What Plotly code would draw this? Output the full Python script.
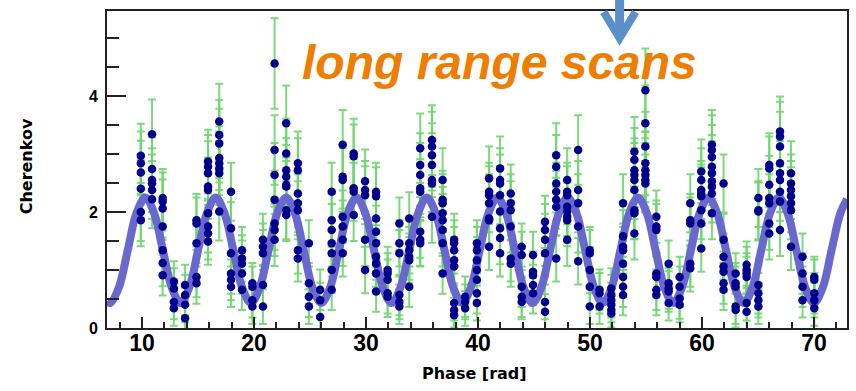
import plotly.graph_objects as go

# ---------------- data ----------------
phase = [
    9.9, 9.9, 9.9, 9.9, 9.9, 9.9,
    10.9, 10.9, 10.9, 10.9, 10.9, 10.9,
    11.85, 11.85, 11.85, 11.85, 11.85, 11.85, 11.85,
    12.85, 12.85, 12.85, 12.85,
    13.85, 13.85, 13.85, 13.85,
    14.87, 14.87, 14.87, 14.87, 14.87,
    15.9, 15.9, 15.9, 15.9, 15.9, 15.9, 15.9, 15.9, 15.9,
    16.9, 16.9, 16.9, 16.9, 16.9, 16.9, 16.9, 16.9,
    17.95, 17.95, 17.95, 17.95, 17.95, 17.95,
    18.93, 18.93, 18.93, 18.93, 18.93,
    19.86, 19.86, 19.86, 19.86,
    20.8, 20.8, 20.8, 20.8, 20.8,
    21.84, 21.84, 21.84, 21.84, 21.84, 21.84, 21.84,
    22.88, 22.88, 22.88, 22.88, 22.88, 22.88, 22.88, 22.88,
    23.92, 23.92, 23.92, 23.92, 23.92, 23.92, 23.92,
    24.9, 24.9, 24.9, 24.9,
    25.91, 25.91, 25.91,
    26.94, 26.94, 26.94, 26.94, 26.94, 26.94, 26.94,
    27.92, 27.92, 27.92, 27.92, 27.92, 27.92, 27.92,
    28.9, 28.9, 28.9, 28.9, 28.9,
    29.92, 29.92, 29.92, 29.92, 29.92,
    30.9, 30.9, 30.9, 30.9, 30.9, 30.9, 30.9, 30.9, 30.9,
    31.93, 31.93, 31.93, 31.93, 31.93,
    32.98, 32.98, 32.98, 32.98, 32.98, 32.98,
    33.86, 33.86, 33.86, 33.86, 33.86, 33.86,
    34.84, 34.84, 34.84, 34.84, 34.84, 34.84, 34.84, 34.84,
    35.89, 35.89, 35.89, 35.89, 35.89, 35.89, 35.89,
    36.84, 36.84, 36.84, 36.84, 36.84, 36.84, 36.84, 36.84,
    37.87, 37.87, 37.87, 37.87, 37.87, 37.87, 37.87, 37.87,
    38.85, 38.85, 38.85,
    39.9, 39.9, 39.9, 39.9, 39.9, 39.9, 39.9,
    40.99, 40.99, 40.99, 40.99, 40.99, 40.99, 40.99,
    41.97, 41.97, 41.97, 41.97, 41.97, 41.97, 41.97, 41.97,
    42.92, 42.92, 42.92, 42.92, 42.92, 42.92,
    43.9, 43.9, 43.9, 43.9, 43.9,
    44.91, 44.91, 44.91, 44.91, 44.91,
    45.98, 45.98, 45.98, 45.98, 45.98, 45.98,
    46.98, 46.98, 46.98, 46.98, 46.98, 46.98, 46.98,
    47.96, 47.96, 47.96, 47.96, 47.96, 47.96, 47.96, 47.96,
    48.94, 48.94, 48.94, 48.94, 48.94,
    49.98, 49.98, 49.98, 49.98, 49.98,
    50.85, 50.85, 50.85,
    51.9, 51.9, 51.9, 51.9, 51.9, 51.9,
    52.95, 52.95, 52.95, 52.95, 52.95, 52.95, 52.95, 52.95,
    53.96, 53.96, 53.96, 53.96, 53.96, 53.96, 53.96, 53.96, 53.96,
    54.94, 54.94, 54.94, 54.94, 54.94, 54.94, 54.94, 54.94,
    55.92, 55.92, 55.92, 55.92, 55.92, 55.92, 55.92,
    57.02, 57.02, 57.02, 57.02, 57.02,
    58.0, 58.0, 58.0, 58.0,
    58.95, 58.95, 58.95, 58.95, 58.95,
    59.93, 59.93, 59.93, 59.93, 59.93, 59.93, 59.93, 59.93,
    60.88, 60.88, 60.88, 60.88, 60.88, 60.88, 60.88, 60.88, 60.88,
    61.92, 61.92, 61.92, 61.92, 61.92, 61.92, 61.92,
    63.0, 63.0, 63.0, 63.0, 63.0,
    63.98, 63.98, 63.98, 63.98, 63.98, 63.98,
    65.03, 65.03, 65.03, 65.03, 65.03, 65.03, 65.03,
    66.0, 66.0, 66.0, 66.0, 66.0, 66.0, 66.0,
    66.96, 66.96, 66.96, 66.96, 66.96, 66.96, 66.96, 66.96, 66.96,
    67.94, 67.94, 67.94, 67.94, 67.94, 67.94, 67.94,
    68.97, 68.97, 68.97, 68.97,
    70.02, 70.02, 70.02, 70.02, 70.02,
]

cherenkov = [
    2.97, 2.84, 2.68, 2.40, 2.00, 1.86,
    3.34, 2.74, 2.55, 2.49, 2.38, 2.22,
    2.24, 2.18, 2.06, 1.75, 1.34, 1.12, 0.91,
    0.80, 0.68, 0.45, 0.34,
    0.74, 0.57, 0.40, 0.17,
    1.86, 1.80, 1.46, 0.88, 0.77,
    2.87, 2.78, 2.67, 2.44, 2.38, 1.98, 1.75, 1.63, 1.49,
    3.56, 3.33, 3.18, 2.93, 2.84, 2.75, 2.67, 2.01,
    2.35, 1.72, 1.29, 0.94, 0.83, 0.71,
    1.34, 1.20, 1.11, 0.94, 0.66,
    0.77, 0.71, 0.48, 0.37,
    1.52, 1.40, 1.29, 0.74, 0.37,
    4.56, 3.07, 2.64, 2.21, 1.80, 1.69, 1.52,
    3.53, 3.01, 2.72, 2.61, 2.47, 2.44, 2.03, 1.95,
    2.84, 2.72, 2.32, 2.15, 2.03, 1.34, 1.20,
    1.46, 0.77, 0.54, 0.37,
    0.66, 0.48, 0.19,
    2.35, 1.86, 1.69, 1.46, 1.29, 1.00, 0.66,
    3.16, 2.61, 2.55, 1.92, 1.75, 1.52, 1.29,
    3.01, 2.96, 2.41, 2.35, 1.95,
    2.53, 2.38, 2.29, 1.52, 1.00,
    2.35, 2.27, 1.89, 1.66, 1.46, 1.23, 1.11, 0.94, 0.63,
    1.00, 0.94, 0.83, 0.60, 0.54,
    1.80, 1.46, 1.29, 0.57, 0.45, 0.37,
    1.89, 1.46, 1.34, 1.23, 1.17, 0.71,
    3.10, 2.81, 2.64, 2.41, 2.35, 1.66, 1.52, 1.46,
    3.24, 3.13, 2.98, 2.81, 2.55, 2.49, 1.92,
    2.55, 2.21, 2.15, 1.98, 1.86, 1.69, 1.46, 0.94,
    1.52, 1.46, 1.34, 1.17, 1.06, 0.43, 0.31, 0.22,
    0.54, 0.45, 0.34,
    1.46, 1.34, 1.17, 1.00, 0.83, 0.60, 0.43,
    2.58, 2.35, 2.29, 2.15, 1.89, 1.86, 1.40,
    2.75, 2.55, 2.49, 2.29, 2.01, 1.72, 1.55, 1.29,
    2.32, 2.15, 2.03, 1.75, 1.20, 1.11,
    1.40, 1.26, 0.71, 0.54, 0.45,
    1.26, 0.97, 0.91, 0.74, 0.60,
    1.83, 1.69, 1.52, 1.29, 0.45, 0.28,
    2.98, 2.78, 2.49, 2.35, 2.21, 2.09, 1.20,
    2.55, 2.35, 2.29, 2.09, 2.01, 1.92, 1.86, 1.52,
    3.07, 2.38, 2.15, 1.75, 1.15,
    1.34, 1.29, 1.00, 0.71, 0.37,
    0.66, 0.60, 0.37,
    0.68, 0.57, 0.48, 0.40, 0.31, 0.25,
    2.15, 1.58, 1.40, 1.34, 1.11, 0.88, 0.71, 0.57,
    3.04, 2.90, 2.72, 2.64, 2.55, 2.38, 2.03, 1.98, 1.63,
    4.10, 3.53, 3.13, 2.84, 2.72, 2.64, 2.55, 2.49,
    1.92, 1.75, 1.69, 0.94, 0.88, 0.66, 0.57,
    1.11, 0.77, 0.68, 0.63, 0.43,
    0.88, 0.71, 0.51, 0.40,
    2.15, 1.86, 1.80, 1.11, 1.03,
    2.70, 2.55, 2.38, 2.32, 2.27, 2.03, 1.80, 1.37,
    3.16, 3.07, 2.95, 2.78, 2.67, 2.53, 2.44, 2.32, 1.98,
    2.49, 1.52, 1.23, 1.06, 0.97, 0.77, 0.66,
    0.94, 0.77, 0.71, 0.37, 0.31,
    1.09, 1.00, 0.94, 0.88, 0.43, 0.28,
    2.24, 2.03, 2.01, 0.74, 0.60, 0.48, 0.37,
    2.81, 2.75, 2.47, 2.24, 2.15, 1.80, 1.63,
    3.39, 3.30, 3.13, 2.84, 2.67, 2.55, 2.35, 2.18, 1.69,
    2.67, 2.49, 2.38, 2.27, 2.15, 2.03, 1.40,
    1.23, 0.94, 0.71, 0.48,
    0.88, 0.83, 0.60, 0.48, 0.34,
]

cherenkov_err = [
    0.55, 0.55, 0.55, 0.50, 0.50, 0.45,
    0.60, 0.55, 0.55, 0.50, 0.50, 0.50,
    0.50, 0.50, 0.50, 0.45, 0.40, 0.40, 0.35,
    0.35, 0.35, 0.30, 0.30,
    0.35, 0.35, 0.30, 0.30,
    0.45, 0.45, 0.40, 0.35, 0.35,
    0.55, 0.55, 0.55, 0.50, 0.50, 0.45, 0.45, 0.45, 0.40,
    0.65, 0.60, 0.60, 0.55, 0.55, 0.55, 0.55, 0.50,
    0.50, 0.45, 0.40, 0.35, 0.35, 0.35,
    0.40, 0.40, 0.40, 0.35, 0.35,
    0.35, 0.35, 0.30, 0.30,
    0.45, 0.40, 0.40, 0.35, 0.30,
    0.78, 0.60, 0.55, 0.50, 0.45, 0.45, 0.45,
    0.65, 0.60, 0.55, 0.55, 0.50, 0.50, 0.50, 0.45,
    0.55, 0.55, 0.50, 0.50, 0.50, 0.40, 0.40,
    0.40, 0.35, 0.35, 0.30,
    0.35, 0.30, 0.30,
    0.50, 0.45, 0.45, 0.40, 0.40, 0.40, 0.35,
    0.60, 0.55, 0.55, 0.45, 0.45, 0.45, 0.40,
    0.60, 0.55, 0.50, 0.50, 0.45,
    0.55, 0.50, 0.50, 0.45, 0.40,
    0.50, 0.50, 0.45, 0.45, 0.40, 0.40, 0.40, 0.35, 0.35,
    0.40, 0.35, 0.35, 0.35, 0.35,
    0.45, 0.40, 0.40, 0.35, 0.30, 0.30,
    0.45, 0.40, 0.40, 0.40, 0.40, 0.35,
    0.60, 0.55, 0.55, 0.50, 0.50, 0.45, 0.45, 0.40,
    0.60, 0.60, 0.55, 0.55, 0.55, 0.50, 0.45,
    0.55, 0.50, 0.50, 0.45, 0.45, 0.45, 0.40, 0.35,
    0.45, 0.40, 0.40, 0.40, 0.40, 0.30, 0.30, 0.30,
    0.35, 0.30, 0.30,
    0.40, 0.40, 0.40, 0.40, 0.35, 0.35, 0.30,
    0.55, 0.50, 0.50, 0.50, 0.45, 0.45, 0.40,
    0.55, 0.55, 0.50, 0.50, 0.50, 0.45, 0.45, 0.40,
    0.50, 0.50, 0.50, 0.45, 0.40, 0.40,
    0.40, 0.40, 0.35, 0.35, 0.30,
    0.40, 0.35, 0.35, 0.35, 0.35,
    0.45, 0.45, 0.45, 0.40, 0.30, 0.30,
    0.55, 0.55, 0.50, 0.50, 0.50, 0.50, 0.40,
    0.55, 0.50, 0.50, 0.50, 0.50, 0.45, 0.45, 0.45,
    0.60, 0.50, 0.50, 0.45, 0.40,
    0.40, 0.40, 0.40, 0.35, 0.30,
    0.35, 0.35, 0.30,
    0.35, 0.35, 0.30, 0.30, 0.30, 0.30,
    0.50, 0.45, 0.40, 0.40, 0.40, 0.35, 0.35, 0.35,
    0.60, 0.55, 0.55, 0.55, 0.55, 0.50, 0.50, 0.45, 0.45,
    0.72, 0.65, 0.60, 0.55, 0.55, 0.55, 0.55, 0.50,
    0.45, 0.45, 0.45, 0.35, 0.35, 0.35, 0.35,
    0.40, 0.35, 0.35, 0.35, 0.30,
    0.35, 0.35, 0.35, 0.30,
    0.50, 0.45, 0.45, 0.40, 0.40,
    0.55, 0.55, 0.50, 0.50, 0.50, 0.50, 0.45, 0.40,
    0.60, 0.60, 0.55, 0.55, 0.55, 0.55, 0.50, 0.50, 0.45,
    0.50, 0.45, 0.40, 0.40, 0.35, 0.35, 0.35,
    0.35, 0.35, 0.35, 0.30, 0.30,
    0.40, 0.40, 0.35, 0.35, 0.30, 0.30,
    0.50, 0.50, 0.50, 0.35, 0.35, 0.30, 0.30,
    0.55, 0.55, 0.50, 0.50, 0.50, 0.45, 0.45,
    0.60, 0.60, 0.60, 0.55, 0.55, 0.55, 0.50, 0.50, 0.45,
    0.55, 0.50, 0.50, 0.50, 0.50, 0.50, 0.40,
    0.40, 0.35, 0.35, 0.30,
    0.35, 0.35, 0.35, 0.30, 0.30,
]

# fitted curve at eighth-period knots
fit_phase = [
    6.88, 7.16, 7.94, 8.73, 9.51, 10.30, 11.09, 11.87, 12.66,
    13.44, 14.23, 15.01, 15.80, 16.58, 17.37, 18.16, 18.94,
    19.73, 20.51, 21.30, 22.08, 22.87, 23.65, 24.44, 25.22,
    26.01, 26.80, 27.58, 28.37, 29.15, 29.94, 30.72, 31.51,
    32.29, 33.08, 33.86, 34.65, 35.43, 36.22, 37.01, 37.79,
    38.58, 39.36, 40.15, 40.93, 41.72, 42.50, 43.29, 44.07,
    44.86, 45.65, 46.43, 47.22, 48.00, 48.79, 49.57, 50.36,
    51.14, 51.93, 52.71, 53.50, 54.28, 55.07, 55.85, 56.64,
    57.43, 58.21, 59.00, 59.78, 60.57, 61.35, 62.14, 62.92,
    63.71, 64.50, 65.28, 66.07, 66.85, 67.64, 68.42, 69.21,
    69.99, 70.78, 71.56, 72.35, 72.94,
]
fit_value = [
    0.46, 0.43, 0.70, 1.34, 1.98, 2.25, 1.98, 1.34, 0.70,
    0.43, 0.70, 1.34, 1.98, 2.25, 1.98, 1.34, 0.70,
    0.43, 0.70, 1.34, 1.98, 2.25, 1.98, 1.34, 0.70,
    0.43, 0.70, 1.34, 1.98, 2.25, 1.98, 1.34, 0.70,
    0.43, 0.70, 1.34, 1.98, 2.25, 1.98, 1.34, 0.70,
    0.43, 0.70, 1.34, 1.98, 2.25, 1.98, 1.34, 0.70,
    0.43, 0.70, 1.34, 1.98, 2.25, 1.98, 1.34, 0.70,
    0.43, 0.70, 1.34, 1.98, 2.25, 1.98, 1.34, 0.70,
    0.43, 0.70, 1.34, 1.98, 2.25, 1.98, 1.34, 0.70,
    0.43, 0.70, 1.34, 1.98, 2.25, 1.98, 1.34, 0.70,
    0.43, 0.70, 1.34, 1.98, 2.22,
]

x_ticks = [10, 20, 30, 40, 50, 60, 70]
y_ticks = [0, 2, 4]
x_title = "Phase [rad]"
y_title = "Cherenkov"
note_text = "long range scans"

# ---------------- figure ----------------
fig = go.Figure()

fig.add_trace(go.Scatter(
    x=phase, y=cherenkov, mode="markers",
    marker=dict(size=8, color="rgba(0,0,0,0)"),
    error_y=dict(type="data", array=cherenkov_err, color="rgba(110,214,110,0.9)",
                 thickness=2, width=4),
    hoverinfo="skip", showlegend=False,
))
fig.add_trace(go.Scatter(
    x=fit_phase, y=fit_value, mode="lines",
    line=dict(color="rgb(104,104,206)", width=8, shape="spline", smoothing=1.0),
    showlegend=False,
))
fig.add_trace(go.Scatter(
    x=phase, y=cherenkov, mode="markers",
    marker=dict(size=8.5, color="rgb(0,0,140)"),
    showlegend=False,
))

axis_line = "#222222"
fig.update_xaxes(
    range=[6.88, 72.94], tickmode="array", tickvals=x_ticks,
    ticks="inside", ticklen=11, tickwidth=1.5, tickcolor=axis_line,
    minor=dict(dtick=2, tick0=0, ticks="inside", ticklen=6, tickwidth=1.5, tickcolor=axis_line),
    showline=True, linecolor=axis_line, linewidth=2, mirror=True,
    showgrid=False, zeroline=False,
    tickfont=dict(family="Liberation Sans", size=23, color="black", weight="bold"),
    ticklabelstandoff=-7,
)
fig.update_yaxes(
    range=[0, 5.466], tickmode="array", tickvals=y_ticks,
    ticks="inside", ticklen=19, tickwidth=1.5, tickcolor=axis_line,
    minor=dict(dtick=0.5, tick0=0, ticks="inside", ticklen=12, tickwidth=1.5, tickcolor=axis_line),
    showline=True, linecolor=axis_line, linewidth=2, mirror=True,
    showgrid=False, zeroline=False,
    tickfont=dict(family="Liberation Sans", size=16, color="black", weight="bold"),
    ticklabelstandoff=4,
)

fig.add_annotation(
    text=x_title, xref="paper", yref="paper", x=0.497, y=-0.145,
    showarrow=False, xanchor="center", yanchor="middle",
    font=dict(family="DejaVu Sans", size=16, color="black", weight="bold"),
)
fig.add_annotation(
    text=y_title, xref="paper", yref="paper", x=-0.109, y=0.511, textangle=-90,
    showarrow=False, xanchor="center", yanchor="middle",
    font=dict(family="DejaVu Sans", size=16, color="black", weight="bold"),
)
fig.add_annotation(
    text=note_text, xref="paper", yref="paper", x=0.531, y=0.839,
    showarrow=False, xanchor="center", yanchor="middle",
    font=dict(family="Liberation Sans", size=48, color="#EE7D00", weight="bold", style="italic"),
)

# blue arrow at top (paper coordinates)
arrow_col = "rgb(92,143,202)"
fig.add_shape(type="line", xref="paper", yref="paper",
              x0=0.6927, x1=0.6927, y0=1.04, y1=0.925,
              line=dict(color=arrow_col, width=9))
fig.add_shape(type="path", xref="paper", yref="paper",
              path="M 0.6712,0.9968 L 0.6927,0.9148 L 0.7143,0.9968",
              line=dict(color=arrow_col, width=8))

fig.update_layout(
    width=856, height=391,
    margin=dict(l=107, r=7, t=11, b=63),
    paper_bgcolor="white", plot_bgcolor="white",
)

fig.write_html("out.html")
